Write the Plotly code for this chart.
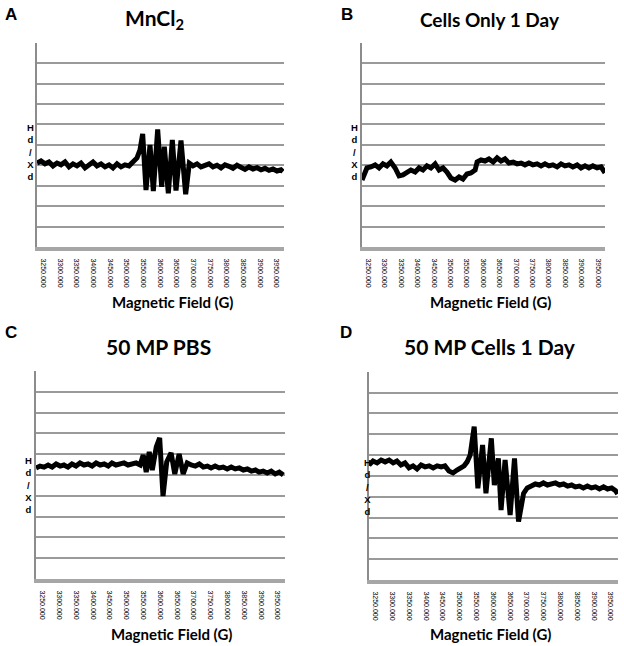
import plotly.graph_objects as go

W, H = 624, 646

# ---------------- data (field in G, derivative signal in arbitrary units) ----------------
field_a = [3231, 3243, 3255, 3267, 3279, 3291, 3303, 3315, 3327, 3339, 3351, 3363, 3375, 3387,
           3399, 3411, 3423, 3435, 3447, 3459, 3471, 3483, 3495, 3507, 3519, 3531,
           3540, 3548, 3558, 3570, 3580, 3593, 3605, 3613, 3625, 3637, 3648, 3663, 3677, 3688,
           3699, 3711, 3723, 3735, 3747, 3759, 3771, 3783, 3795, 3807, 3819, 3831, 3843, 3855,
           3867, 3879, 3891, 3903, 3915, 3927, 3939, 3951, 3963, 3969]
signal_a = [-0.89, -0.79, -0.93, -0.84, -1.03, -0.89, -0.98, -0.84, -1.08, -0.93, -1.03, -0.89, -1.13, -0.98,
            -0.84, -1.03, -0.93, -1.08, -0.98, -1.13, -0.93, -1.08, -0.98, -1.03, -0.84, -0.64,
            -0.25, 0.53, -2.21, 0.00, -2.26, 0.76, -2.05, -0.09, -2.37, 0.24, -2.24, 0.21, -2.42, -0.90,
            -1.03, -0.93, -1.08, -0.98, -0.93, -1.08, -1.00, -1.13, -0.98, -1.05, -1.15, -1.00, -1.10, -1.20,
            -1.08, -1.18, -1.12, -1.22, -1.15, -1.25, -1.18, -1.28, -1.22, -1.31]

field_b = [3231, 3237, 3246, 3258, 3271, 3283, 3295, 3307, 3319, 3332, 3344, 3356, 3368, 3380,
           3393, 3405, 3417, 3429, 3441, 3454, 3466, 3478, 3490, 3502, 3515, 3527, 3539, 3551,
           3563, 3576, 3582, 3594, 3606, 3618, 3631, 3643, 3655, 3667, 3679, 3692, 3704, 3716,
           3728, 3740, 3752, 3765, 3777, 3789, 3801, 3813, 3826, 3838, 3850, 3862, 3874, 3887,
           3899, 3911, 3923, 3935, 3948, 3960, 3972]
signal_b = [-1.72, -1.47, -1.13, -1.08, -0.98, -1.13, -0.93, -1.03, -0.84, -1.13, -1.52, -1.47, -1.38, -1.23,
            -1.33, -1.13, -1.23, -1.03, -1.13, -0.93, -1.23, -1.13, -1.33, -1.62, -1.72, -1.57, -1.67, -1.43,
            -1.38, -1.23, -0.84, -0.74, -0.79, -0.69, -0.84, -0.64, -0.79, -0.69, -0.89, -0.84, -0.93, -0.89,
            -0.98, -0.89, -0.98, -0.93, -1.03, -0.93, -1.03, -0.98, -1.08, -0.93, -1.03, -0.98, -1.08, -0.98,
            -1.13, -1.03, -1.13, -1.03, -1.13, -1.08, -1.37]

field_c = [3231, 3243, 3255, 3267, 3279, 3291, 3303, 3314, 3326, 3338, 3350, 3362, 3374, 3386,
           3398, 3410, 3422, 3434, 3446, 3457, 3469, 3481, 3493, 3505, 3517, 3529, 3541,
           3550, 3559, 3568, 3577, 3589, 3599, 3609, 3620, 3633, 3644, 3657, 3669, 3681,
           3693, 3705, 3717, 3729, 3741, 3752, 3764, 3776, 3788, 3800, 3812, 3824, 3836, 3848,
           3860, 3872, 3884, 3895, 3907, 3919, 3931, 3943, 3955, 3967]
signal_c = [0.34, 0.43, 0.38, 0.48, 0.38, 0.53, 0.43, 0.48, 0.38, 0.53, 0.43, 0.58, 0.48, 0.53,
            0.43, 0.58, 0.48, 0.53, 0.43, 0.58, 0.48, 0.53, 0.58, 0.48, 0.53, 0.58, 0.48,
            0.96, 0.14, 1.11, 0.24, 1.35, 1.78, -1.01, 0.63, 1.06, 0.05, 1.01, 0.05, 0.58,
            0.48, 0.43, 0.53, 0.38, 0.43, 0.34, 0.43, 0.34, 0.38, 0.29, 0.38, 0.29, 0.34, 0.24,
            0.29, 0.19, 0.24, 0.14, 0.19, 0.10, 0.19, 0.05, 0.14, 0.00]

field_d = [3231, 3243, 3255, 3267, 3279, 3291, 3303, 3314, 3326, 3338, 3350, 3362, 3374, 3386,
           3398, 3410, 3422, 3434, 3446, 3457, 3469, 3481, 3493, 3505, 3514, 3523, 3532,
           3544, 3555, 3569, 3579, 3595, 3604, 3616, 3624, 3636, 3651, 3664, 3676, 3691,
           3702, 3714, 3726, 3738, 3750, 3762, 3774, 3786, 3798, 3810, 3822, 3834, 3845, 3857,
           3869, 3881, 3893, 3905, 3917, 3929, 3941, 3953, 3965, 3971]
signal_d = [0.52, 0.71, 0.62, 0.76, 0.67, 0.76, 0.62, 0.71, 0.52, 0.62, 0.38, 0.48, 0.33, 0.52,
            0.43, 0.48, 0.38, 0.48, 0.43, 0.48, 0.23, 0.14, 0.28, 0.38, 0.48, 0.67, 1.00,
            2.36, -0.60, 1.48, -0.84, 1.80, -0.44, 0.84, -1.64, 0.76, -1.88, 0.84, -2.20, -0.84,
            -0.58, -0.49, -0.39, -0.44, -0.34, -0.44, -0.39, -0.34, -0.44, -0.39, -0.49, -0.44, -0.53, -0.49,
            -0.58, -0.49, -0.58, -0.53, -0.63, -0.53, -0.63, -0.58, -0.72, -0.87]

panel_titles = ["MnCl<sub>2</sub>", "Cells Only 1 Day", "50 MP PBS", "50 MP Cells 1 Day"]
panel_letters = ["A", "B", "C", "D"]
tick_fields = [3250, 3300, 3350, 3400, 3450, 3500, 3550, 3600, 3650, 3700, 3750, 3800, 3850, 3900, 3950]
tick_labels = ["%.3f" % v for v in tick_fields]
x_title = "Magnetic Field (G)"
y_title = "H<br>d<br>/<br>X<br>d"   # "dX/dH" stacked, read bottom to top

fields = [field_a, field_b, field_c, field_d]
signals = [signal_a, signal_b, signal_c, signal_d]

# ---------------- layout geometry (pixels) ----------------
boxes = [(37, 284, 42.7, 247), (362, 605, 42.7, 247), (36, 285, 371, 579), (369, 618, 371.7, 580)]
title_pos = [(154, 19), (490, 19), (158, 346), (490, 346)]
title_size = [21, 19, 21, 21]
letter_pos = [(11, 14), (347, 14), (11, 332), (346, 332)]
xtitle_pos = [(172, 302), (490, 302), (171, 634), (490, 634)]
ylab_pos = [(31, 152), (354.5, 152), (28.5, 484.5), (367.5, 486.5)]


def px(x):
    return x / W


def py(y):
    return 1 - y / H


fig = go.Figure()
layout = dict(width=W, height=H, margin=dict(l=0, r=0, t=0, b=0), autosize=False,
              paper_bgcolor="white", plot_bgcolor="white", showlegend=False)
annotations = []
for i in range(4):
    l, r, t, b = boxes[i]
    sfx = "" if i == 0 else str(i + 1)
    fig.add_trace(go.Scatter(x=fields[i], y=signals[i], mode="lines",
                             line=dict(color="black", width=5),
                             xaxis="x" + sfx, yaxis="y" + sfx, hoverinfo="skip"))
    layout["xaxis" + sfx] = dict(domain=[px(l), px(r)], anchor="y" + sfx, range=[3231, 3972],
                                 showgrid=False, zeroline=False, showline=True,
                                 linecolor="#a6a6a6", linewidth=4,
                                 tickmode="array", tickvals=tick_fields, ticktext=tick_labels,
                                 tickangle=90, ticks="", ticklabelstandoff=6,
                                 tickfont=dict(family="Liberation Sans", size=7, color="black"))
    layout["yaxis" + sfx] = dict(domain=[py(b), py(t)], anchor="x" + sfx, range=[-5, 5],
                                 tickmode="linear", tick0=-5, dtick=1, showticklabels=False,
                                 showgrid=True, gridcolor="#9a9a9a", gridwidth=2,
                                 zeroline=False, showline=True, linecolor="#8c8c8c", linewidth=2,
                                 ticks="")
    tx, ty = title_pos[i]
    annotations.append(dict(text="<b>%s</b>" % panel_titles[i], x=px(tx), y=py(ty),
                            xref="paper", yref="paper", showarrow=False,
                            xanchor="center", yanchor="middle",
                            font=dict(family="Lato", size=title_size[i], color="black")))
    lx, ly = letter_pos[i]
    annotations.append(dict(text="<b>%s</b>" % panel_letters[i], x=px(lx), y=py(ly),
                            xref="paper", yref="paper", showarrow=False,
                            xanchor="center", yanchor="middle",
                            font=dict(family="Liberation Sans", size=17, color="black")))
    xx, xy = xtitle_pos[i]
    annotations.append(dict(text="<b>%s</b>" % x_title, x=px(xx), y=py(xy),
                            xref="paper", yref="paper", showarrow=False,
                            xanchor="center", yanchor="middle",
                            font=dict(family="Lato", size=15, color="black")))
    yx, yy = ylab_pos[i]
    annotations.append(dict(text="<b>%s</b>" % y_title, x=px(yx), y=py(yy),
                            xref="paper", yref="paper", showarrow=False,
                            xanchor="center", yanchor="middle",
                            font=dict(family="Liberation Sans", size=9.5, color="black")))

layout["annotations"] = annotations
fig.update_layout(**layout)
fig.write_html("out.html", config={"displayModeBar": False},
               post_script="document.body.style.margin='0';")
